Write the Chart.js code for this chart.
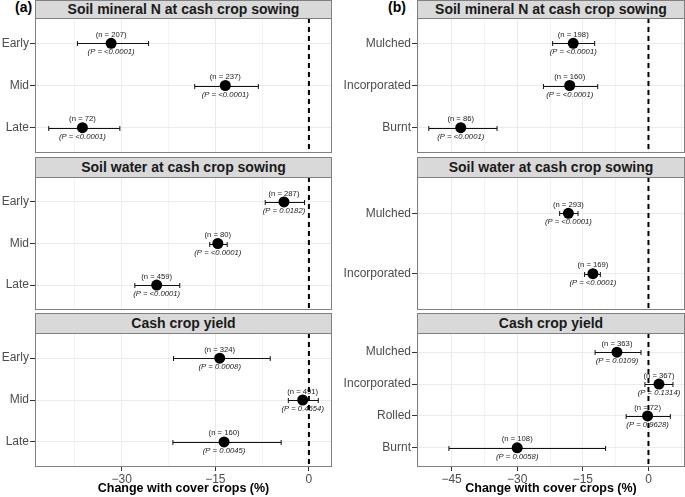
<!DOCTYPE html>
<html>
<head>
<meta charset="utf-8">
<script src="https://cdn.jsdelivr.net/npm/chart.js@4/dist/chart.umd.min.js"></script>
<style>
  html,body{margin:0;padding:0;background:#fff;}
  body{width:685px;height:497px;position:relative;overflow:hidden;font-family:"Liberation Sans",Arial,sans-serif;}
  canvas{position:absolute;}
  .strip{position:absolute;box-sizing:border-box;background:#d9d9d9;border:1px solid #808080;
         font-weight:bold;font-size:14px;color:#1a1a1a;text-align:center;}
  .tag{position:absolute;font-weight:bold;font-size:14px;color:#000;line-height:15px;}
</style>
</head>
<body>
<div class="tag" style="left:15px;top:0px;">(a)</div>
<div class="tag" style="left:388px;top:0px;">(b)</div>
<script>
// ---------- data ----------
const facetTitles = ['Soil mineral N at cash crop sowing', 'Soil water at cash crop sowing', 'Cash crop yield'];
const xTitle = 'Change with cover crops (%)';

// Panel (a): timing of termination
const aNCats = ['Early', 'Mid', 'Late'];
const aNMean = [-31.7, -13.4, -36.3];
const aNLow  = [-37.1, -18.3, -41.7];
const aNHigh = [-25.7, -8.1, -30.3];
const aNn    = [207, 237, 72];
const aNP    = ['<0.0001', '<0.0001', '<0.0001'];

const aWCats = ['Early', 'Mid', 'Late'];
const aWMean = [-4.0, -14.6, -24.4];
const aWLow  = [-7.0, -15.9, -27.9];
const aWHigh = [-0.7, -13.1, -20.7];
const aWn    = [287, 80, 459];
const aWP    = ['0.0182', '<0.0001', '<0.0001'];

const aYCats = ['Early', 'Mid', 'Late'];
const aYMean = [-14.3, -1.0, -13.6];
const aYLow  = [-21.7, -3.3, -21.8];
const aYHigh = [-6.2, 1.5, -4.45];
const aYn    = [324, 491, 160];
const aYP    = ['0.0008', '0.4654', '0.0045'];

// Panel (b): residue management
const bNCats = ['Mulched', 'Incorporated', 'Burnt'];
const bNMean = [-17.2, -18.0, -42.9];
const bNLow  = [-21.9, -24.0, -50.2];
const bNHigh = [-12.3, -11.6, -34.6];
const bNn    = [198, 160, 86];
const bNP    = ['<0.0001', '<0.0001', '<0.0001'];

const bWCats = ['Mulched', 'Incorporated'];
const bWMean = [-18.3, -12.7];
const bWLow  = [-20.3, -14.6];
const bWHigh = [-16.1, -11.0];
const bWn    = [293, 169];
const bWP    = ['<0.0001', '<0.0001'];

const bYCats = ['Mulched', 'Incorporated', 'Rolled', 'Burnt'];
const bYMean = [-7.2, 2.4, -0.2, -30.0];
const bYLow  = [-12.2, -0.8, -5.1, -45.6];
const bYHigh = [-1.7, 5.6, 5.0, -9.8];
const bYn    = [363, 367, 72, 108];
const bYP    = ['0.0109', '0.1314', '0.9628', '0.0058'];

const aTicks = [-37.5, -30, -22.5, -15, -7.5, 0];
const bTicks = [-52.5, -45, -37.5, -30, -22.5, -15, -7.5, 0, 7.5];
const aRange = [-43.9, 3.7];
const bRange = [-52.9, 8.35];

// ---------- layout ----------
Chart.defaults.font.family = '"Liberation Sans", Arial, sans-serif';
const cols = [
  {canvasLeft: 0,   plotLeft: 35,  plotRight: 331, ticks: aTicks, range: aRange,
   facets: [
     {cats: aNCats, mean: aNMean, low: aNLow, high: aNHigh, n: aNn, p: aNP},
     {cats: aWCats, mean: aWMean, low: aWLow, high: aWHigh, n: aWn, p: aWP},
     {cats: aYCats, mean: aYMean, low: aYLow, high: aYHigh, n: aYn, p: aYP}]},
  {canvasLeft: 340, plotLeft: 417, plotRight: 684, ticks: bTicks, range: bRange,
   facets: [
     {cats: bNCats, mean: bNMean, low: bNLow, high: bNHigh, n: bNn, p: bNP},
     {cats: bWCats, mean: bWMean, low: bWLow, high: bWHigh, n: bWn, p: bWP},
     {cats: bYCats, mean: bYMean, low: bYLow, high: bYHigh, n: bYn, p: bYP}]}
];
const rows = [
  {stripTop: 0,   stripH: 19, plotTop: 18,  plotBottom: 152},
  {stripTop: 157, stripH: 21, plotTop: 177, plotBottom: 309},
  {stripTop: 313, stripH: 21, plotTop: 333, plotBottom: 466}
];

const forestPlugin = {
  id: 'forest',
  beforeDatasetsDraw(chart, args, opts) {
    const {ctx, scales: {x, y}} = chart;
    ctx.save();
    ctx.strokeStyle = '#111';
    ctx.lineWidth = 1;
    opts.low.forEach((lo, i) => {
      const yy = Math.round(y.getPixelForValue(i + 1)) + 0.5;
      const x1 = x.getPixelForValue(lo), x2 = x.getPixelForValue(opts.high[i]);
      ctx.beginPath();
      ctx.moveTo(x1, yy); ctx.lineTo(x2, yy);
      ctx.moveTo(x1, yy - 2.5); ctx.lineTo(x1, yy + 2.5);
      ctx.moveTo(x2, yy - 2.5); ctx.lineTo(x2, yy + 2.5);
      ctx.stroke();
    });
    ctx.restore();
  },
  afterDatasetsDraw(chart, args, opts) {
    const {ctx, chartArea: ca, scales: {x, y}} = chart;
    ctx.save();
    ctx.fillStyle = '#1a1a1a';
    ctx.textAlign = 'center';
    ctx.textBaseline = 'middle';
    opts.mean.forEach((m, i) => {
      const xx = x.getPixelForValue(m), yy = y.getPixelForValue(i + 1);
      ctx.font = '7.7px "Liberation Sans", Arial, sans-serif';
      ctx.fillText('(n = ' + opts.n[i] + ')', xx, yy - 8.5);
      ctx.font = 'italic 7.7px "Liberation Sans", Arial, sans-serif';
      ctx.fillText('(P = ' + opts.p[i] + ')', xx, yy + 9);
    });
    // zero reference line
    const x0 = x.getPixelForValue(0);
    ctx.strokeStyle = '#000';
    ctx.lineWidth = 2;
    ctx.setLineDash([5, 4]);
    ctx.beginPath();
    ctx.moveTo(x0, ca.top); ctx.lineTo(x0, ca.bottom);
    ctx.stroke();
    ctx.setLineDash([]);
    // panel border
    ctx.strokeStyle = '#808080';
    ctx.lineWidth = 1;
    ctx.strokeRect(ca.left + 0.5, ca.top + 0.5, ca.right - ca.left - 1, ca.bottom - ca.top - 1);
    ctx.restore();
  }
};

const fmt = v => (v < 0 ? '\u2212' + Math.abs(v) : String(v));
const noPad = sc => { sc.paddingLeft = 0; sc.paddingRight = 0; sc.paddingTop = 0; sc.paddingBottom = 0; };

cols.forEach(col => {
  col.facets.forEach((f, r) => {
    const row = rows[r];
    const isBottom = r === rows.length - 1;
    // strip
    const s = document.createElement('div');
    s.className = 'strip';
    s.style.left = col.plotLeft + 'px';
    s.style.top = row.stripTop + 'px';
    s.style.width = (col.plotRight - col.plotLeft + 1) + 'px';
    s.style.height = row.stripH + 'px';
    s.style.lineHeight = (row.stripH - 2) + 'px';
    s.textContent = facetTitles[r];
    document.body.appendChild(s);

    const cv = document.createElement('canvas');
    const w = col.plotRight - col.canvasLeft + 1;
    const plotH = row.plotBottom - row.plotTop + 1;
    const h = isBottom ? (497 - row.plotTop) : plotH;
    cv.width = w; cv.height = h;
    cv.style.left = col.canvasLeft + 'px';
    cv.style.top = row.plotTop + 'px';
    cv.style.width = w + 'px'; cv.style.height = h + 'px';
    document.body.appendChild(cv);

    const yAxisW = col.plotLeft - col.canvasLeft;
    new Chart(cv, {
      type: 'scatter',
      data: {
        datasets: [{
          data: f.mean.map((m, i) => ({x: m, y: i + 1})),
          pointRadius: 5.5,
          pointHoverRadius: 5.5,
          backgroundColor: '#000',
          borderWidth: 0,
          clip: false
        }]
      },
      options: {
        responsive: false,
        animation: false,
        devicePixelRatio: 1,
        layout: {autoPadding: false, padding: 0},
        plugins: {
          legend: {display: false},
          title: {display: false},
          tooltip: {enabled: false},
          forest: {mean: f.mean, low: f.low, high: f.high, n: f.n, p: f.p}
        },
        scales: {
          x: {
            type: 'linear',
            min: col.range[0], max: col.range[1],
            afterBuildTicks: sc => { sc.ticks = col.ticks.map(v => ({value: v})); },
            afterFit: sc => { sc.height = isBottom ? (h - plotH) : 0; noPad(sc); },
            border: {display: false},
            grid: {
              color: c => (c.tick && c.tick.value % 15 === 0) ? '#ebebeb' : '#f3f3f3',
              lineWidth: 1,
              drawTicks: isBottom,
              tickLength: 4,
              tickColor: c => (c.tick && c.tick.value % 15 === 0) ? '#333' : 'rgba(0,0,0,0)'
            },
            ticks: {
              display: isBottom,
              autoSkip: false,
              maxRotation: 0,
              minRotation: 0,
              padding: 1,
              color: '#4d4d4d',
              font: {size: 12},
              callback: v => (v % 15 === 0 ? fmt(v) : '')
            },
            title: {
              display: isBottom,
              text: xTitle,
              color: '#000',
              font: {size: 12.5, weight: 'bold'},
              padding: {top: 1, bottom: 1}
            }
          },
          y: {
            type: 'linear',
            reverse: true,
            min: 0.4, max: f.cats.length + 0.6,
            afterBuildTicks: sc => { sc.ticks = f.cats.map((c, i) => ({value: i + 1})); },
            afterFit: sc => { sc.width = yAxisW; noPad(sc); },
            border: {display: false},
            grid: {color: '#ebebeb', lineWidth: 1, drawTicks: true, tickLength: 5, tickColor: '#333'},
            ticks: {
              autoSkip: false,
              padding: 1,
              color: '#4d4d4d',
              font: {size: 12},
              callback: v => f.cats[Math.round(v) - 1]
            }
          }
        }
      },
      plugins: [forestPlugin]
    });
  });
});
</script>
</body>
</html>
